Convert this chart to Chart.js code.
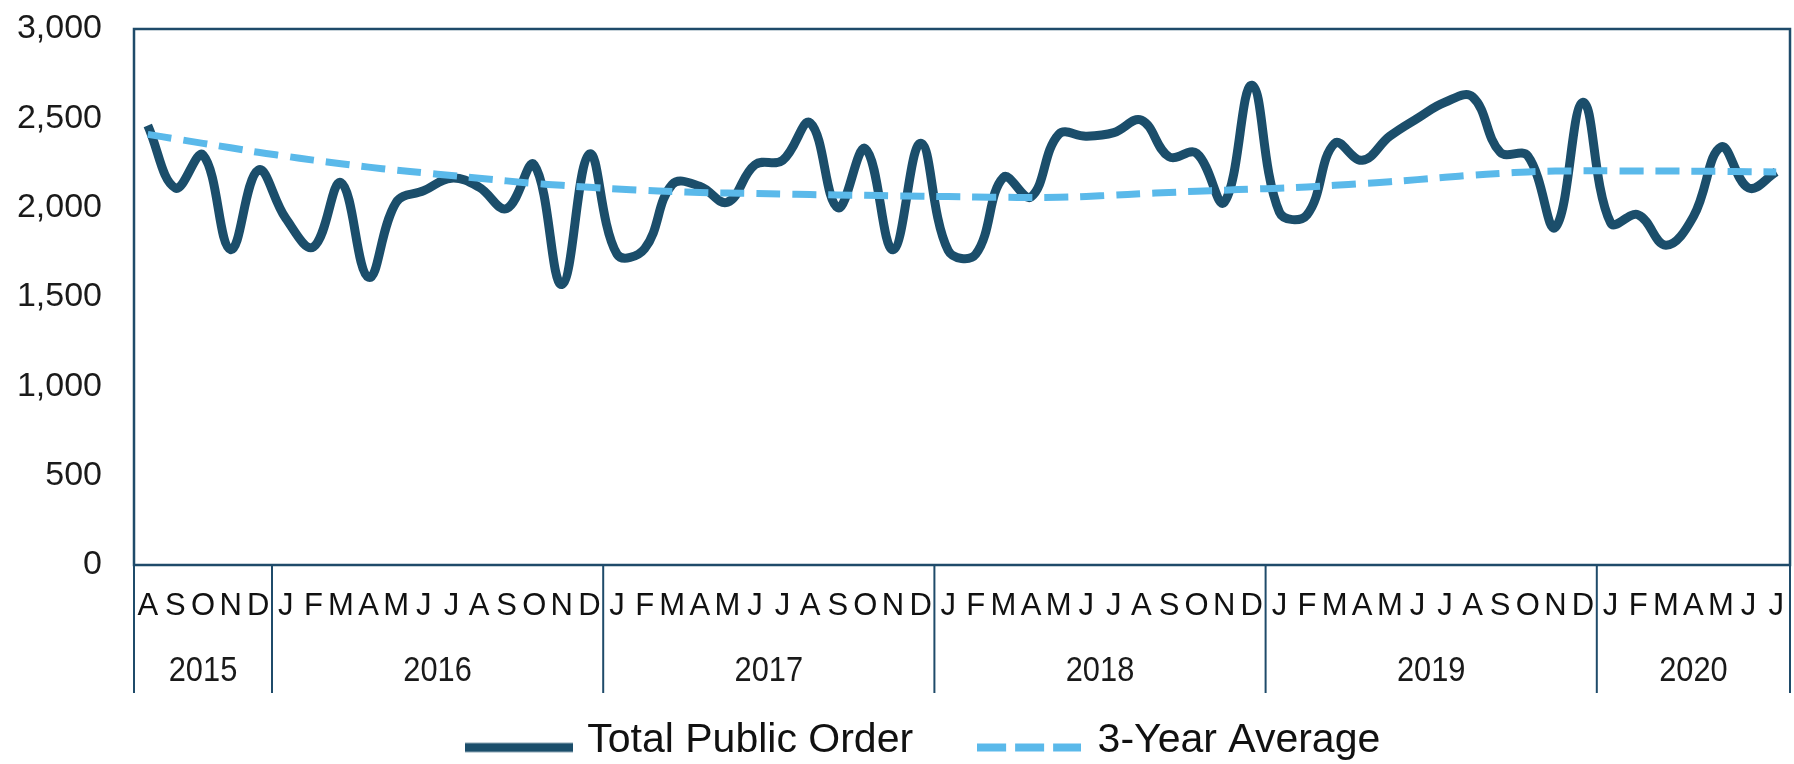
<!DOCTYPE html>
<html><head><meta charset="utf-8">
<script src="https://cdn.jsdelivr.net/npm/chart.js@4"></script>
<style>html,body{margin:0;padding:0;background:#fff;} #wrap{width:1794px;height:764px;position:relative;}</style>
</head><body><div id="wrap"><canvas id="c" width="1794" height="764"></canvas></div>
<script>
// Month labels Aug 2015 – Jul 2020
const months = ['A','S','O','N','D',
  'J','F','M','A','M','J','J','A','S','O','N','D',
  'J','F','M','A','M','J','J','A','S','O','N','D',
  'J','F','M','A','M','J','J','A','S','O','N','D',
  'J','F','M','A','M','J','J','A','S','O','N','D',
  'J','F','M','A','M','J','J'];
const years = ['2015','2016','2017','2018','2019','2020'];
const yearMonthCounts = [5,12,12,12,12,7];
const totalPublicOrder = [
  2460,2110,2295,1765,2210,
  1940,1780,2140,1610,2030,2095,2165,2115,1995,2240,1570,2300,
  1740,1770,2130,2120,2030,2240,2265,2475,2000,2330,1765,2360,
  1760,1740,2170,2060,2410,2400,2420,2490,2285,2305,2030,2685,
  1975,1960,2360,2265,2400,2500,2590,2620,2310,2290,1890,2590,
  1915,1960,1790,1950,2340,2110,2200];
const threeYearAverage = [
  2410,2385,2360,2335,2310,
  2288,2266,2246,2227,2210,2195,2180,2165,2150,2136,2125,2114,
  2105,2097,2090,2085,2082,2079,2076,2073,2071,2069,2066,2064,
  2062,2060,2058,2057,2058,2063,2070,2078,2085,2092,2098,2104,
  2109,2116,2125,2135,2145,2157,2170,2182,2192,2200,2205,2206,
  2206,2205,2205,2204,2203,2201,2200];
const yMin = 0, yMax = 3000, yStep = 500;

const MAIN_COLOR = '#1b4e6b', AVG_COLOR = '#5ab9ea', FRAME_COLOR = '#1f4b6a';

function makeSample(w, color, lw, dash) {
  const c = document.createElement('canvas');
  c.width = w; c.height = 26;
  const g = c.getContext('2d');
  g.strokeStyle = color; g.lineWidth = lw; g.setLineDash(dash);
  g.beginPath(); g.moveTo(0, 20); g.lineTo(w, 20); g.stroke();
  return c;
}
const legendSamples = [makeSample(108, MAIN_COLOR, 9, []), makeSample(104, AVG_COLOR, 8, [29, 9])];

const frame = {
  id: 'frame',
  afterDraw(chart) {
    const {ctx, chartArea: a, scales: {x}} = chart;
    ctx.save();
    ctx.strokeStyle = FRAME_COLOR;
    ctx.lineWidth = 2.5;
    ctx.strokeRect(a.left, a.top, a.right - a.left, a.bottom - a.top);
    const half = (x.getPixelForValue(1) - x.getPixelForValue(0)) / 2;
    let idx = 0;
    const bounds = [x.getPixelForValue(0) - half];
    yearMonthCounts.forEach(c => { idx += c; bounds.push(x.getPixelForValue(idx - 1) + half); });
    ctx.lineWidth = 2;
    bounds.forEach(b => { ctx.beginPath(); ctx.moveTo(b, a.bottom); ctx.lineTo(b, a.bottom + 128); ctx.stroke(); });
    ctx.fillStyle = '#1a1a1a';
    ctx.font = "35px 'Liberation Sans', Arial, sans-serif";
    ctx.textAlign = 'center';
    ctx.textBaseline = 'middle';
    years.forEach((yr, i) => {
      ctx.save();
      ctx.translate((bounds[i] + bounds[i + 1]) / 2, a.bottom + 106);
      ctx.scale(0.88, 1);
      ctx.fillText(yr, 0, 0);
      ctx.restore();
    });
    ctx.restore();
  }
};

const hiddenGrid = { display: true, drawOnChartArea: false, drawTicks: true, color: 'rgba(0,0,0,0)' };

new Chart(document.getElementById('c'), {
  type: 'line',
  data: {
    labels: months,
    datasets: [
      { label: 'Total Public Order', data: totalPublicOrder, borderColor: MAIN_COLOR, backgroundColor: MAIN_COLOR,
        borderWidth: 9, tension: 0.4, pointRadius: 0, fill: false, order: 1, yAxisID: 'y' },
      { label: '3-Year Average', data: threeYearAverage, borderColor: AVG_COLOR, backgroundColor: AVG_COLOR,
        borderWidth: 7, borderDash: [24, 12], tension: 0.4, pointRadius: 0, fill: false, order: 0, yAxisID: 'y' }
    ]
  },
  options: {
    responsive: false, animation: false, devicePixelRatio: 1,
    layout: { padding: { left: 10, right: -47, top: 29, bottom: -7 } },
    plugins: {
      tooltip: { enabled: false },
      legend: {
        position: 'bottom', align: 'center',
        labels: {
          usePointStyle: true, pointStyleWidth: 96, padding: 68,
          color: '#111', font: { family: "'Liberation Sans', Arial, sans-serif", size: 41 },
          sort: (a, b) => a.datasetIndex - b.datasetIndex,
          generateLabels(chart) {
            const items = Chart.defaults.plugins.legend.labels.generateLabels(chart);
            items.forEach(it => { it.pointStyle = legendSamples[it.datasetIndex]; });
            return items;
          }
        }
      }
    },
    scales: {
      x: {
        type: 'category', offset: true,
        grid: Object.assign({}, hiddenGrid, { tickLength: 23 }),
        border: { display: false },
        ticks: { autoSkip: false, maxRotation: 0, minRotation: 0, padding: 0, color: '#111',
          font: { family: "'Liberation Sans', Arial, sans-serif", size: 31 } },
        afterFit(s) { s.height = 87; }
      },
      y: {
        min: yMin, max: yMax, position: 'left',
        grid: Object.assign({}, hiddenGrid, { tickLength: 32 }),
        border: { display: false },
        ticks: { stepSize: yStep, padding: 0, color: '#1a1a1a',
          font: { family: "'Liberation Sans', Arial, sans-serif", size: 34 } },
        afterFit(s) { s.width = 124; }
      },
      y2: {
        position: 'right', min: 0, max: 1, display: true,
        grid: { display: false, drawTicks: false },
        border: { display: false },
        ticks: { display: false },
        afterFit(s) { s.width = 51; }
      }
    }
  },
  plugins: [frame]
});
</script></body></html>
